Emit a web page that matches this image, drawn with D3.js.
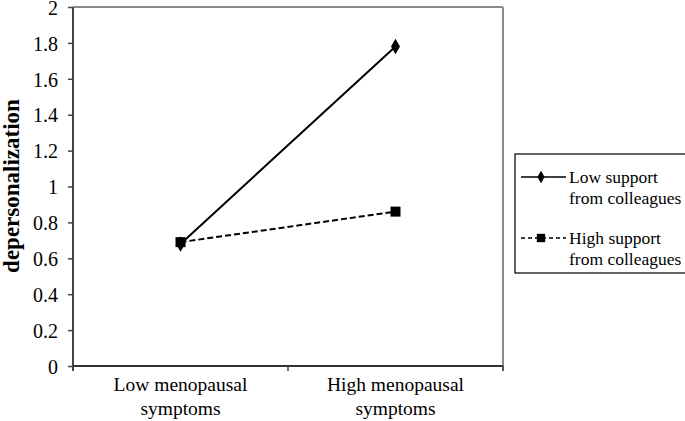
<!DOCTYPE html>
<html><head><meta charset="utf-8">
<script src="https://cdn.jsdelivr.net/npm/d3@7"></script>
<style>body{margin:0;background:#fff}svg{display:block}text{font-family:"Liberation Serif","Times New Roman",serif}</style>
</head><body><svg id="c" width="685" height="421"></svg>
<script>
const categories = [["Low menopausal","symptoms"],["High menopausal","symptoms"]];
const lowSupport = [0.68, 1.78];
const highSupport = [0.69, 0.86];
const seriesNames = [["Low support","from colleagues"],["High support","from colleagues"]];
const yTicks = [0,0.2,0.4,0.6,0.8,1,1.2,1.4,1.6,1.8,2];
const yLabel = "depersonalization";

const svg = d3.select("#c");
const L=73,R=503,T=7,B=366;
const x = d3.scaleBand().domain([0,1]).range([L,R]);
const y = d3.scaleLinear().domain([0,2]).range([B,T]);

// top/right border
svg.append("line").attr("x1",L).attr("x2",R).attr("y1",T).attr("y2",T).attr("stroke","#8c8c8c").attr("stroke-width",2);
svg.append("line").attr("x1",R).attr("x2",R).attr("y1",T).attr("y2",B+5).attr("stroke","#8c8c8c").attr("stroke-width",2);

// y axis
const ya = svg.append("g").attr("transform",`translate(${L},0)`)
  .call(d3.axisLeft(y).tickValues(yTicks).tickSize(5).tickPadding(10).tickFormat(d=>String(+d.toFixed(1))));
ya.select(".domain").attr("stroke","#444").attr("stroke-width",2).attr("d",`M0,${T}V${B+5}`);
ya.selectAll(".tick line").attr("stroke","#444").attr("stroke-width",1.5);
ya.selectAll(".tick text").attr("font-size",20).attr("fill","#000").attr("font-family","Liberation Serif").attr("dy","0.36em");

// x axis
const xa = svg.append("g").attr("transform",`translate(0,${B})`);
xa.append("line").attr("x1",L).attr("x2",R).attr("stroke","#333").attr("stroke-width",2);
[L, x(1), R].forEach(v=>xa.append("line").attr("x1",v).attr("x2",v).attr("y1",0).attr("y2",5).attr("stroke","#444").attr("stroke-width",1.5));
categories.forEach((c,i)=>{
  const t = xa.append("text").attr("x",x(i)+x.bandwidth()/2).attr("text-anchor","middle").attr("font-size",19.5);
  c.forEach((s,j)=>t.append("tspan").attr("x",x(i)+x.bandwidth()/2).attr("y",25+j*24).text(s));
});

// y label
svg.append("text").attr("transform",`translate(19,186) rotate(-90)`).attr("text-anchor","middle")
  .attr("font-size",23).attr("font-weight","bold").text(yLabel);

const cx = i=>x(i)+x.bandwidth()/2;
const line = d3.line().x((d,i)=>cx(i)).y(d=>y(d));
svg.append("path").attr("d",line(highSupport)).attr("fill","none").attr("stroke","#000").attr("stroke-width",2).attr("stroke-dasharray","6,3");
svg.append("path").attr("d",line(lowSupport)).attr("fill","none").attr("stroke","#000").attr("stroke-width",2);
const diamond = d3.symbol().type(d3.symbolDiamond).size(70);
const square = d3.symbol().type(d3.symbolSquare).size(100);
svg.selectAll(".sq").data(highSupport).join("path").attr("d",square).attr("transform",(d,i)=>`translate(${cx(i)},${y(d)})`).attr("fill","#000");
svg.selectAll(".di").data(lowSupport).join("path").attr("d",diamond).attr("transform",(d,i)=>`translate(${cx(i)},${y(d)})`).attr("fill","#000");

// legend
const lg = svg.append("g");
lg.append("rect").attr("x",515).attr("y",154).attr("width",175).attr("height",119).attr("fill","#fff").attr("stroke","#000").attr("stroke-width",1.2);
const ly=[177,238];
seriesNames.forEach((n,i)=>{
  lg.append("line").attr("x1",521).attr("x2",566).attr("y1",ly[i]).attr("y2",ly[i]).attr("stroke","#000").attr("stroke-width",1.5).attr("stroke-dasharray",i?"4,3":null);
  lg.append("path").attr("d",i?d3.symbol().type(d3.symbolSquare).size(70)():d3.symbol().type(d3.symbolDiamond).size(45)()).attr("transform",`translate(541,${ly[i]})`).attr("fill","#000");
  const t=lg.append("text").attr("font-size",17.5);
  n.forEach((s,j)=>t.append("tspan").attr("x",569).attr("y",ly[i]+6+j*21).text(s));
});
</script></body></html>
